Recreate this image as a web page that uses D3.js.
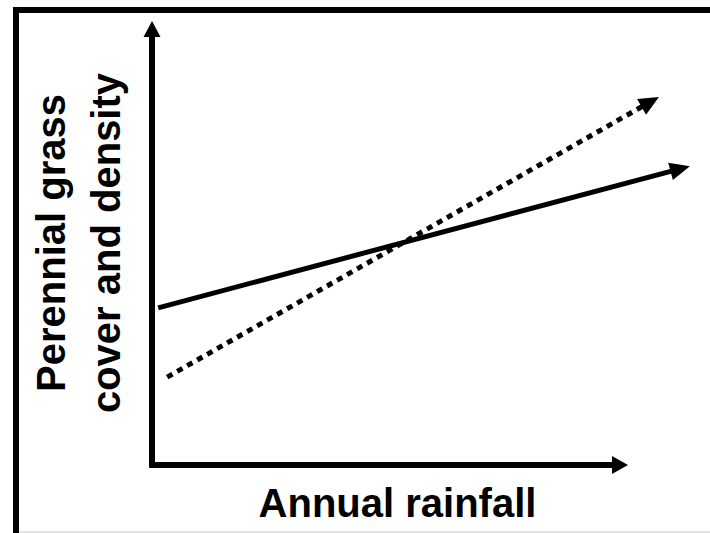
<!DOCTYPE html>
<html lang="en">
<head>
  <meta charset="UTF-8">
  <title>Perennial grass vs annual rainfall</title>
  <script src="https://d3js.org/d3.v7.min.js"></script>
  <style>
    body {
      margin: 0;
      padding: 0;
      overflow: hidden;
      background: #fff;
    }
    #chart text {
      font-family: "Liberation Sans", Arial, sans-serif;
      font-weight: bold;
      fill: #000;
    }
  </style>
</head>
<body>
  <svg id="chart" width="710" height="533"></svg>

  <script>
    // —— data (arbitrary units, conceptual diagram) ——
    const axisEnds = [{x: 0, y: 0}, {x: 100, y: 0}, {x: 0, y: 100}];
    const solidLine = [{x: 1.3, y: 35.4}, {x: 113, y: 67.3}];
    const dottedLine = [{x: 3.2, y: 19.8}, {x: 106.5, y: 82.9}];
    const xLabel = "Annual rainfall";
    const yLabel = ["Perennial grass", "cover and density"];

    const width = 710, height = 533;
    const svg = d3.select("#chart");

    const x = d3.scaleLinear().domain([0, 100]).range([152, 628]);
    const y = d3.scaleLinear().domain([0, 100]).range([465, 21]);

    // frame: only top and left edges show in the original crop
    svg.append("path")
      .attr("d", `M16,${height} V10 H${width}`)
      .attr("fill", "none")
      .attr("stroke", "#000")
      .attr("stroke-width", 6);
    svg.append("line")
      .attr("x1", 19).attr("x2", width)
      .attr("y1", 532).attr("y2", 532)
      .attr("stroke", "#e4e4e4").attr("stroke-width", 2);

    // draws an arrow from a to b (data points); tip lands exactly on b
    function arrow(a, b, opts) {
      const x1 = x(a.x), y1 = y(a.y), x2 = x(b.x), y2 = y(b.y);
      const len = Math.hypot(x2 - x1, y2 - y1);
      const ux = (x2 - x1) / len, uy = (y2 - y1) / len;
      const hl = opts.headLen, hw = opts.headW / 2;
      const bx = x2 - ux * hl, by = y2 - uy * hl;
      // shaft stops a bit inside the head
      svg.append("line")
        .attr("x1", x1).attr("y1", y1)
        .attr("x2", bx + ux * 3).attr("y2", by + uy * 3)
        .attr("stroke", "#000")
        .attr("stroke-width", opts.width)
        .attr("stroke-dasharray", opts.dash || null);
      svg.append("path")
        .attr("d", `M${x2},${y2} L${bx - uy * hw},${by + ux * hw} L${bx + uy * hw},${by - ux * hw} Z`)
        .attr("fill", "#000");
    }

    // axes
    arrow({x: axisEnds[0].x - 0.6, y: axisEnds[0].y}, axisEnds[1], {width: 6, headLen: 16, headW: 18});
    arrow({x: axisEnds[0].x, y: axisEnds[0].y - 0.3}, axisEnds[2], {width: 6, headLen: 16, headW: 17});

    // trend lines
    arrow(solidLine[0], solidLine[1], {width: 5, headLen: 20, headW: 18});
    arrow(dottedLine[0], dottedLine[1], {width: 5, headLen: 20, headW: 18, dash: "6,5.5"});

    // labels
    svg.append("text")
      .attr("x", 397.5).attr("y", 517)
      .attr("text-anchor", "middle")
      .attr("font-size", 40)
      .text(xLabel);

    const yl = svg.append("text")
      .attr("transform", "translate(0,243) rotate(-90)")
      .attr("text-anchor", "middle")
      .attr("font-size", 40);
    yl.selectAll("tspan").data(yLabel).join("tspan")
      .attr("x", 0)
      .attr("y", (d, i) => i === 0 ? 65 : 120)
      .text(d => d);
  </script>
</body>
</html>
